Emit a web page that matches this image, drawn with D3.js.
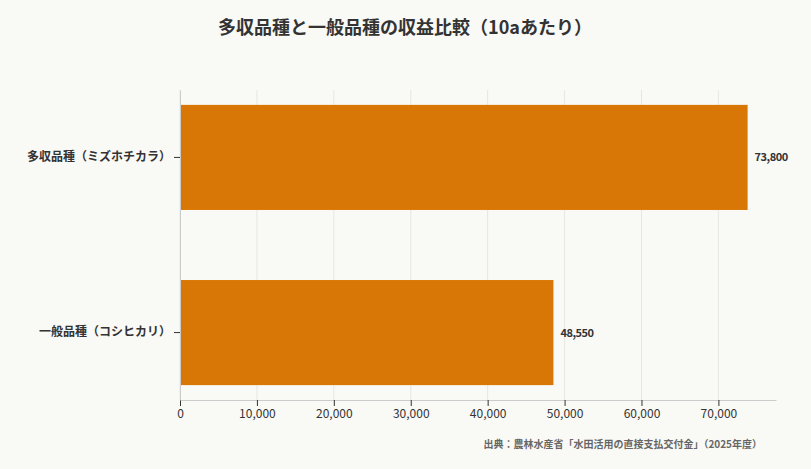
<!DOCTYPE html><html><head><meta charset="utf-8"><script src="https://d3js.org/d3.v7.min.js"></script>
<style>body{margin:0;background:#f9f9f5;font-family:"Noto Sans CJK JP","Noto Sans",sans-serif}</style></head><body><svg id="c" width="811" height="469"></svg><script>
const categories=["多収品種（ミズホチカラ）","一般品種（コシヒカリ）"];
const values=[73800,48550];
const ticks=[0,10000,20000,30000,40000,50000,60000,70000];
const svg=d3.select("#c");
const x=d3.scaleLinear().domain([0,73800*1.05]).range([180,776]);
const y=d3.scaleBand().domain(categories).range([90,400]).paddingInner(0.4).paddingOuter(0.085);
svg.append("text").attr("x",405).attr("y",34).attr("text-anchor","middle").attr("font-size",18).attr("font-weight","bold").attr("fill","#333").text("多収品種と一般品種の収益比較（10aあたり）");
svg.append("g").selectAll("line").data(ticks).join("line").attr("x1",d=>x(d)).attr("x2",d=>x(d)).attr("y1",90).attr("y2",400).attr("stroke","#e6e6e2");
svg.append("g").selectAll("rect").data(values).join("rect").attr("x",x(0)).attr("y",(d,i)=>y(categories[i])).attr("width",d=>x(d)-x(0)).attr("height",y.bandwidth()).attr("fill","#d97706");
svg.append("g").selectAll("text").data(values).join("text").attr("x",d=>x(d)+7).attr("y",(d,i)=>y(categories[i])+y.bandwidth()/2+4).attr("font-size",11).attr("font-weight","bold").attr("fill","#333").attr("letter-spacing","-0.5").text(d=>d3.format(",")(d));
const ax=svg.append("g").attr("transform","translate(0,400)").call(d3.axisBottom(x).tickValues(ticks).tickFormat(d3.format(",")).tickSizeOuter(0));
ax.select(".domain").attr("stroke","#ccc");ax.selectAll("line").attr("stroke","#333");ax.selectAll("text").attr("font-size",12).attr("fill","#333").attr("font-family","Noto Sans CJK JP");
const ay=svg.append("g").attr("transform","translate(180,0)").call(d3.axisLeft(y).tickSizeOuter(0));
ay.select(".domain").attr("stroke","#ccc");ay.selectAll("line").attr("stroke","#333");ay.selectAll("text").attr("font-size",12).attr("font-weight","bold").attr("fill","#333").attr("font-family","Noto Sans CJK JP");
svg.append("text").attr("x",762).attr("y",448).attr("text-anchor","end").attr("font-size",10).attr("font-weight","bold").attr("fill","#666").text("出典：農林水産省「水田活用の直接支払交付金」（2025年度）");
</script></body></html>
